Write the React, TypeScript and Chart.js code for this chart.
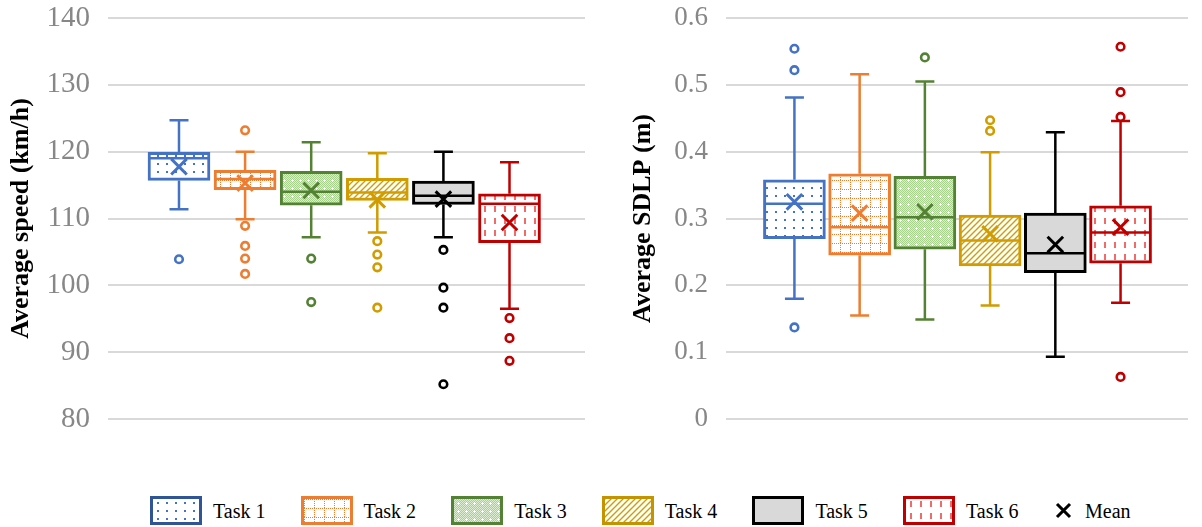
import React, { useEffect, useMemo, useRef } from 'react';
import { Chart, registerables } from 'chart.js';

Chart.register(...registerables);

const FONT = "'Liberation Serif', 'Times New Roman', serif";

// ---- categories & colours ----
const taskLabels = ['Task 1', 'Task 2', 'Task 3', 'Task 4', 'Task 5', 'Task 6'];
const taskColors = ['#4472C4', '#ED7D31', '#548235', '#D09C00', '#000000', '#C00000'];
const legendBorderColors = ['#2F5597', '#ED7D31', '#548235', '#C49400', '#000000', '#C00000'];

// ---- Average speed (km/h) ----
const speedLower = [111.4, 109.9, 107.2, 107.9, 107.2, 96.5];
const speedQ1 = [115.7, 114.3, 112.0, 112.7, 112.1, 106.4];
const speedMedian = [119.0, 115.9, 114.0, 113.9, 113.4, 112.2];
const speedQ3 = [119.9, 117.2, 117.05, 116.0, 115.6, 113.7];
const speedUpper = [124.7, 120.0, 121.4, 119.75, 120.0, 118.4];
const speedMean = [117.75, 115.3, 114.2, 112.8, 112.9, 109.4];
const speedOutliers = [
  [103.9],
  [123.2, 108.9, 105.9, 104.0, 101.7],
  [104.0, 97.5],
  [106.6, 104.6, 102.7, 96.65],
  [105.3, 99.65, 96.65, 85.2],
  [95.1, 92.1, 88.7],
];
const speedTicks = [80, 90, 100, 110, 120, 130, 140];

// ---- Average SDLP (m) ----
const sdlpLower = [0.18, 0.155, 0.149, 0.17, 0.093, 0.174];
const sdlpQ1 = [0.27, 0.245, 0.254, 0.229, 0.219, 0.233];
const sdlpMedian = [0.322, 0.287, 0.302, 0.267, 0.248, 0.279];
const sdlpQ3 = [0.358, 0.367, 0.363, 0.305, 0.308, 0.319];
const sdlpUpper = [0.481, 0.516, 0.505, 0.399, 0.429, 0.446];
const sdlpMean = [0.325, 0.308, 0.31, 0.277, 0.261, 0.287];
const sdlpOutliers = [
  [0.554, 0.522, 0.137],
  [],
  [0.541],
  [0.447, 0.431],
  [],
  [0.557, 0.489, 0.452, 0.063],
];
const sdlpTicks = [0, 0.1, 0.2, 0.3, 0.4, 0.5, 0.6];

type Spec = {
  lower: number[];
  q1: number[];
  median: number[];
  q3: number[];
  upper: number[];
  mean: number[];
  outliers: number[][];
  ticks: number[];
  title: string;
  xMin: number;
  xMax: number;
  axisWidth: number;
  titlePad: number;
  tickSize: number;
  titleSize: number;
};

const speedSpec: Spec = {
  lower: speedLower, q1: speedQ1, median: speedMedian, q3: speedQ3, upper: speedUpper,
  mean: speedMean, outliers: speedOutliers, ticks: speedTicks,
  title: 'Average speed (km/h)', xMin: -0.074, xMax: 7.142, axisWidth: 108, titlePad: 6,
  tickSize: 29, titleSize: 26,
};
const sdlpSpec: Spec = {
  lower: sdlpLower, q1: sdlpQ1, median: sdlpMedian, q3: sdlpQ3, upper: sdlpUpper,
  mean: sdlpMean, outliers: sdlpOutliers, ticks: sdlpTicks,
  title: 'Average SDLP (m)', xMin: -0.049, xMax: 7.034, axisWidth: 126, titlePad: 28,
  tickSize: 27, titleSize: 26,
};

function makeTile(i: number): HTMLCanvasElement {
  const c = document.createElement('canvas');
  const g = c.getContext('2d')!;
  const white = (w: number, h: number) => {
    c.width = w; c.height = h;
    g.fillStyle = '#ffffff';
    g.fillRect(0, 0, w, h);
  };
  switch (i) {
    case 0: {
      white(9, 8);
      g.fillStyle = '#4472C4';
      g.fillRect(4, 3, 2, 2);
      break;
    }
    case 1: {
      white(10, 9);
      g.fillStyle = '#ED7D31';
      for (let k = 0; k < 10; k += 2) g.fillRect(k, 0, 1, 1);
      for (let k = 0; k < 9; k += 2) g.fillRect(0, k, 1, 1);
      break;
    }
    case 2: {
      c.width = 8; c.height = 8;
      g.fillStyle = '#DDEDD2';
      g.fillRect(0, 0, 8, 8);
      g.fillStyle = '#A9D18E';
      for (let yy = 0; yy < 8; yy++) for (let xx = 0; xx < 8; xx++) if ((xx + yy) % 2 === 0) g.fillRect(xx, yy, 1, 1);
      g.fillStyle = '#ffffff';
      g.fillRect(3, 4, 3, 1);
      g.fillRect(4, 3, 1, 3);
      break;
    }
    case 3: {
      white(6, 6);
      g.strokeStyle = '#D09C00';
      g.lineWidth = 1.4;
      g.beginPath();
      g.moveTo(-1, 7); g.lineTo(7, -1);
      g.moveTo(-1, 1); g.lineTo(1, -1);
      g.moveTo(5, 7); g.lineTo(7, 5);
      g.stroke();
      break;
    }
    case 4: {
      c.width = 2; c.height = 2;
      g.fillStyle = '#D9D9D9';
      g.fillRect(0, 0, 2, 2);
      break;
    }
    default: {
      white(10, 12);
      g.fillStyle = '#F26B6B';
      g.fillRect(4, 2, 2, 6);
      break;
    }
  }
  return c;
}

function BoxChart({ spec, left, width, height, padRight }: { spec: Spec; left: number; width: number; height: number; padRight: number }) {
  const ref = useRef<HTMLCanvasElement>(null);
  useEffect(() => {
    const canvas = ref.current!;
    const ctx2 = canvas.getContext('2d')!;
    const patterns = taskColors.map((_, i) => ctx2.createPattern(makeTile(i), 'repeat')!);
    const pos = taskLabels.map((_, i) => i + 1);
    const outlierData: { x: number; y: number }[] = [];
    const outlierColors: string[] = [];
    spec.outliers.forEach((arr, i) =>
      arr.forEach((v) => {
        outlierData.push({ x: i + 1, y: v });
        outlierColors.push(taskColors[i]);
      })
    );

    const extras = {
      id: 'boxExtras',
      afterDatasetDraw(chart: any, args: any) {
        if (args.index !== 0) return;
        const c = chart.ctx as CanvasRenderingContext2D;
        const ys = chart.scales.y;
        const meta = chart.getDatasetMeta(0);
        c.save();
        meta.data.forEach((bar: any, i: number) => {
          const cx = bar.x;
          const half = bar.width / 2;
          const pUp = ys.getPixelForValue(spec.upper[i]);
          const pQ3 = ys.getPixelForValue(spec.q3[i]);
          const pQ1 = ys.getPixelForValue(spec.q1[i]);
          const pLo = ys.getPixelForValue(spec.lower[i]);
          const pMed = ys.getPixelForValue(spec.median[i]);
          c.strokeStyle = taskColors[i];
          c.lineWidth = 2.5;
          c.lineCap = 'butt';
          c.beginPath();
          c.moveTo(cx, pQ3); c.lineTo(cx, pUp);
          c.moveTo(cx - 9.5, pUp); c.lineTo(cx + 9.5, pUp);
          c.moveTo(cx, pQ1); c.lineTo(cx, pLo);
          c.moveTo(cx - 9.5, pLo); c.lineTo(cx + 9.5, pLo);
          c.stroke();
          c.lineWidth = 2.5;
          c.beginPath();
          c.moveTo(cx - half + 2, pMed); c.lineTo(cx + half - 2, pMed);
          c.stroke();
        });
        c.restore();
      },
    };

    const chart = new Chart(canvas, {
      type: 'bar',
      data: {
        datasets: [
          {
            type: 'bar',
            data: pos.map((x, i) => ({ x, y: [spec.q1[i], spec.q3[i]] })) as any,
            backgroundColor: patterns as any,
            borderColor: taskColors,
            borderWidth: 3,
            borderSkipped: false,
            barThickness: 62,
            order: 3,
          } as any,
          {
            type: 'scatter',
            data: outlierData,
            pointStyle: 'circle',
            pointRadius: 3.8,
            pointBorderWidth: 2.6,
            pointBackgroundColor: '#ffffff',
            pointBorderColor: outlierColors,
            order: 2,
          } as any,
          {
            type: 'scatter',
            data: pos.map((x, i) => ({ x, y: spec.mean[i] })),
            pointStyle: 'crossRot',
            pointRadius: 11,
            pointBorderWidth: 3,
            pointBorderColor: taskColors,
            order: 1,
          } as any,
        ],
      },
      options: {
        responsive: false,
        animation: false,
        devicePixelRatio: 1,
        layout: { padding: { top: 18, bottom: height - 419, left: 0, right: padRight } },
        plugins: { legend: { display: false }, tooltip: { enabled: false } },
        scales: {
          x: { type: 'linear', display: false, min: spec.xMin, max: spec.xMax, offset: false, grid: { offset: false } },
          y: {
            min: spec.ticks[0],
            max: spec.ticks[spec.ticks.length - 1],
            afterFit: (s: any) => {
              s.width = spec.axisWidth;
              s.paddingTop = 0;
              s.paddingBottom = 0;
            },
            afterBuildTicks: (s: any) => { s.ticks = spec.ticks.map((v) => ({ value: v })); },
            grid: { color: '#D9D9D9', lineWidth: 2, drawTicks: false },
            border: { display: false },
            ticks: {
              color: '#878787',
              padding: 18,
              font: { family: FONT, size: spec.tickSize },
              callback: (v: any) => String(Number(Number(v).toFixed(2))),
            },
            title: {
              display: true,
              text: spec.title,
              color: '#000000',
              font: { family: FONT, size: spec.titleSize, weight: 'bold' },
              padding: { top: spec.titlePad, bottom: 0 },
            },
          } as any,
        },
      } as any,
      plugins: [extras],
    });
    return () => chart.destroy();
  }, [spec, height, padRight]);
  return (
    <canvas
      ref={ref}
      width={width}
      height={height}
      style={{ position: 'absolute', left, top: 0, width, height }}
    />
  );
}

export default function App() {
  const tiles = useMemo(() => taskColors.map((_, i) => makeTile(i).toDataURL()), []);
  return (
    <div
      style={{
        position: 'absolute', left: 0, top: 0, width: 1202, height: 527,
        background: '#ffffff', overflow: 'hidden', fontFamily: FONT,
      }}
    >
      <BoxChart spec={speedSpec} left={0} width={600} height={440} padRight={15} />
      <BoxChart spec={sdlpSpec} left={600} width={602} height={440} padRight={0} />
      {taskLabels.map((t, i) => (
        <div
          key={t}
          style={{ position: 'absolute', left: 150 + i * 150.6, top: 496, height: 29, display: 'flex', alignItems: 'center' }}
        >
          <div
            style={{
              width: 52, height: 29, boxSizing: 'border-box',
              border: `3px solid ${legendBorderColors[i]}`, backgroundImage: `url(${tiles[i]})`,
            }}
          />
          <span style={{ marginLeft: 11, fontSize: 20, color: '#000', lineHeight: '20px', whiteSpace: 'nowrap' }}>{t}</span>
        </div>
      ))}
      <div style={{ position: 'absolute', left: 1055, top: 496, height: 29, display: 'flex', alignItems: 'center' }}>
        <svg width={17} height={17} viewBox="0 0 17 17">
          <path d="M2 2 L15 15 M15 2 L2 15" stroke="#000" strokeWidth={3} />
        </svg>
        <span style={{ marginLeft: 13, fontSize: 20, color: '#000', lineHeight: '20px' }}>Mean</span>
      </div>
    </div>
  );
}
